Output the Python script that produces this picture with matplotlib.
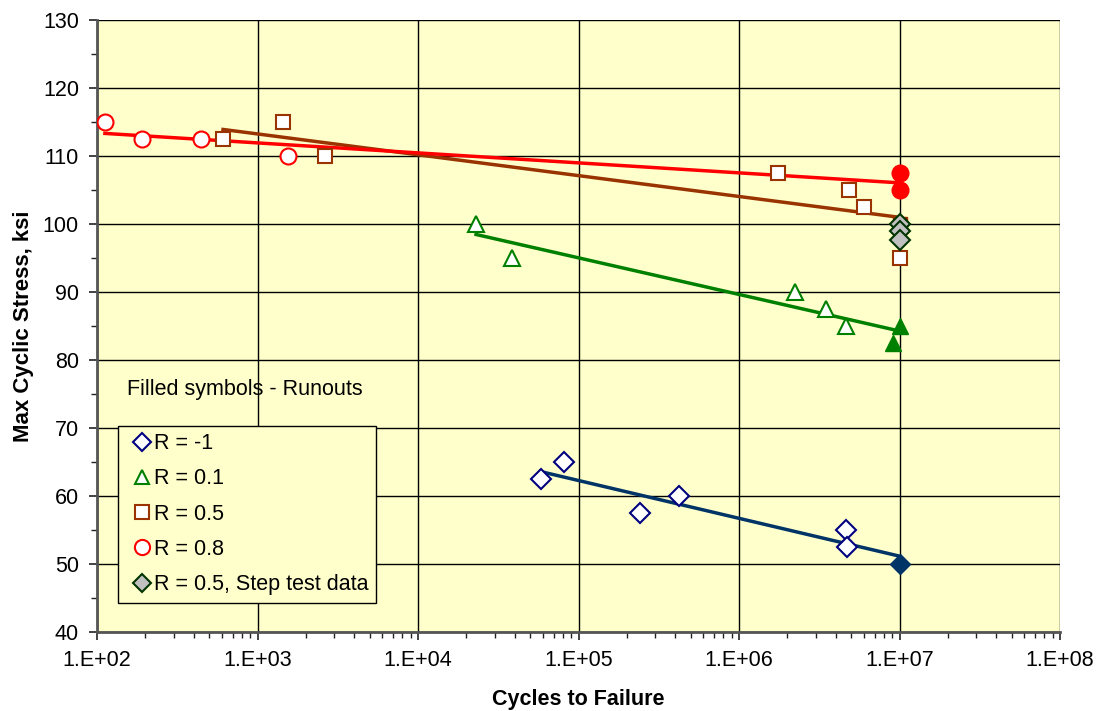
import numpy as np
import matplotlib
matplotlib.use("Agg")
import matplotlib.pyplot as plt
from matplotlib.ticker import FixedLocator, MultipleLocator, FuncFormatter, LogLocator, NullFormatter

plt.rcParams["font.family"] = ["Liberation Sans", "DejaVu Sans"]

# R = -1
rm1_n = [5.8e4, 8.1e4, 2.4e5, 4.2e5, 4.65e6, 4.7e6]
rm1_s = [62.5, 65, 57.5, 60, 55, 52.5]
rm1_run_n = [1e7]
rm1_run_s = [50]

# R = 0.1
r01_n = [2.3e4, 3.85e4, 2.23e6, 3.5e6, 4.65e6]
r01_s = [100, 95, 90, 87.5, 85]
r01_run_n = [1e7, 9.1e6]
r01_run_s = [85, 82.5]

# R = 0.5
r05_n = [610, 1440, 2630, 1.75e6, 4.85e6, 6.0e6, 1e7]
r05_s = [112.5, 115, 110, 107.5, 105, 102.5, 95]
r05_run_n = [1e7]
r05_run_s = [100]

# R = 0.8
r08_n = [112, 191, 444, 1550]
r08_s = [115, 112.5, 112.5, 110]
r08_run_n = [1e7, 1e7]
r08_run_s = [107.5, 105]

# R = 0.5 step test
step_n = [1e7, 1e7, 1e7]
step_s = [100, 99, 97.7]

fig = plt.figure(figsize=(10.98, 7.11), dpi=100)
ax = fig.add_axes([97/1098, 1-632/711, 963/1098, 612/711])
ax.set_facecolor("#FFFFCC")


def trend(n, s, n_run, s_run, color):
    x = np.log10(np.concatenate([n, n_run]))
    y = np.concatenate([s, s_run])
    k, b = np.polyfit(x, y, 1)
    xs = np.array([x.min(), x.max()])
    ax.plot(10**xs, k*xs + b, color=color, lw=2.5, zorder=3)


trend(rm1_n, rm1_s, rm1_run_n, rm1_run_s, "#003366")
trend(r01_n, r01_s, r01_run_n, r01_run_s, "#008000")
trend(r05_n, r05_s, r05_run_n, r05_run_s, "#993300")
trend(r08_n, r08_s, r08_run_n, r08_run_s, "#FF0000")

ax.plot(rm1_n, rm1_s, "D", ms=10, mfc="white", mec="#000080", mew=1.5, ls="none", label="R = -1", zorder=4)
ax.plot(rm1_run_n, rm1_run_s, "D", ms=10.5, mfc="#003366", mec="#003366", ls="none", zorder=4)
ax.plot(r01_n, r01_s, "^", ms=11, mfc="white", mec="#008000", mew=1.5, ls="none", label="R = 0.1", zorder=4)
ax.plot(r01_run_n, r01_run_s, "^", ms=11.5, mfc="#008000", mec="#008000", ls="none", zorder=4)
ax.plot(r05_n, r05_s, "s", ms=10.5, mfc="white", mec="#993300", mew=1.5, ls="none", label="R = 0.5", zorder=4)
ax.plot(r05_run_n, r05_run_s, "s", ms=10.5, mfc="#800000", mec="#993300", ls="none", zorder=4)
ax.plot(r08_n, r08_s, "o", ms=11.5, mfc="white", mec="#FF0000", mew=1.5, ls="none", label="R = 0.8", zorder=4)
ax.plot(r08_run_n, r08_run_s, "o", ms=12, mfc="#FF0000", mec="#FF0000", ls="none", zorder=4)
ax.plot(step_n, step_s, "D", ms=10, mfc="#C0C0C0", mec="#003300", mew=1.5, ls="none",
        label="R = 0.5, Step test data", zorder=5)

ax.set_xscale("log")
ax.set_xlim(1e2, 1e8)
ax.set_ylim(40, 130)
ax.xaxis.set_major_locator(FixedLocator([1e2, 1e3, 1e4, 1e5, 1e6, 1e7, 1e8]))
ax.xaxis.set_minor_locator(LogLocator(base=10, subs=np.arange(2, 10)))
ax.xaxis.set_minor_formatter(NullFormatter())
ax.xaxis.set_major_formatter(FuncFormatter(lambda v, p: "1.E+%02d" % round(np.log10(v))))
ax.yaxis.set_major_locator(MultipleLocator(10))
ax.yaxis.set_minor_locator(MultipleLocator(5))
ax.grid(True, which="major", color="black", lw=1)
ax.set_axisbelow(True)
ax.tick_params(labelsize=15.5, direction="out", length=6, width=1.2, color="#222222", pad=7)
ax.tick_params(which="minor", length=4, width=1, color="#222222")
for side in ["top", "right"]:
    ax.spines[side].set_visible(False)
for side in ["left", "bottom"]:
    ax.spines[side].set_color("#555555")
    ax.spines[side].set_linewidth(2)

ax.set_xlabel("Cycles to Failure", fontsize=15.5, fontweight="bold", labelpad=13)
ax.set_ylabel("Max Cyclic Stress, ksi", fontsize=16, fontweight="bold", labelpad=6)

ax.text(154, 75.6, "Filled symbols - Runouts", fontsize=15.5, va="center", ha="left")

leg = ax.legend(loc="lower left", bbox_to_anchor=(0.022, 0.048), fontsize=15.5,
                frameon=True, fancybox=False, edgecolor="black", facecolor="#FFFFCC",
                framealpha=1, handlelength=1.5, handletextpad=-0.2, labelspacing=0.66,
                borderpad=0.35, borderaxespad=0, markerscale=0.95)
leg.get_frame().set_linewidth(1)

fig.savefig("out.png", dpi=100)
